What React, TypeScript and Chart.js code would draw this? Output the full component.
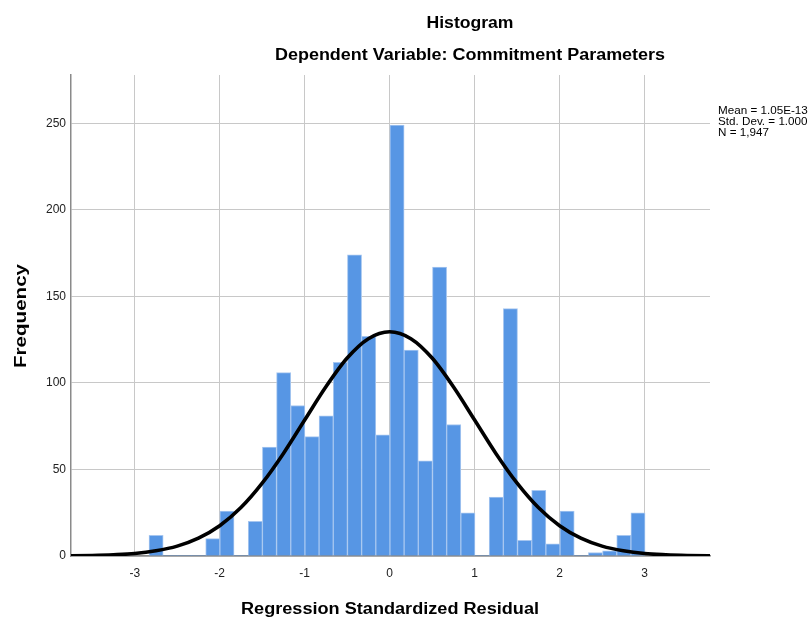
import React, { useEffect, useRef } from "react";
import { Chart, registerables } from "chart.js";

Chart.register(...registerables);

// ---- data ----
const binStart = -2.832;
const binWidth = 0.1668;
const binCounts = [
  12, 0, 0, 0, 10, 26, 0, 20, 63, 106, 87, 69, 81, 112, 174, 127, 70, 249,
  119, 55, 167, 76, 25, 0, 34, 143, 9, 38, 7, 26, 0, 2, 3, 12, 25,
];
const curveX = [
  -4, -3.75, -3.5, -3.25, -3, -2.75, -2.5, -2.25, -2, -1.75, -1.5, -1.25, -1,
  -0.75, -0.5, -0.25, 0, 0.25, 0.5, 0.75, 1, 1.25, 1.5, 1.75, 2, 2.25, 2.5,
  2.75, 3, 3.25, 3.5, 3.75, 4,
];
const curveY = [
  0.04, 0.1, 0.3, 0.7, 1.4, 3.0, 5.7, 10.3, 17.5, 28.0, 42.1, 59.3, 78.6,
  97.8, 114.4, 125.6, 129.6, 125.6, 114.4, 97.8, 78.6, 59.3, 42.1, 28.0, 17.5,
  10.3, 5.7, 3.0, 1.4, 0.7, 0.3, 0.1, 0.04,
];
const xTicks = [-3, -2, -1, 0, 1, 2, 3];
const yTicks = [0, 50, 100, 150, 200, 250];
const titleText = "Histogram";
const subtitleText = "Dependent Variable: Commitment Parameters";
const xTitle = "Regression Standardized Residual";
const yTitle = "Frequency";
const statsLines = ["Mean = 1.05E-13", "Std. Dev. = 1.000", "N = 1,947"];

const FONT = "'Liberation Sans', Arial, sans-serif";

function drawStretched(
  ctx: CanvasRenderingContext2D,
  text: string,
  x: number,
  y: number,
  font: string,
  sxOrWidth: { width?: number; sx?: number },
  align: "left" | "center",
  rotate = 0
) {
  ctx.save();
  ctx.font = font;
  ctx.fillStyle = "#000";
  ctx.textBaseline = "alphabetic";
  ctx.textAlign = "left";
  const w = ctx.measureText(text).width;
  const sx = sxOrWidth.width ? sxOrWidth.width / w : sxOrWidth.sx || 1;
  ctx.translate(x, y);
  if (rotate) ctx.rotate(rotate);
  ctx.scale(sx, 1);
  const ox = align === "center" ? -w / 2 : 0;
  ctx.fillText(text, ox, 0);
  ctx.restore();
}

const textPlugin = {
  id: "spssText",
  afterDraw(chart: any) {
    const ctx = chart.ctx as CanvasRenderingContext2D;
    drawStretched(ctx, titleText, 470, 28, `bold 16px ${FONT}`, { width: 87 }, "center");
    drawStretched(ctx, subtitleText, 470, 60, `bold 16px ${FONT}`, { width: 390 }, "center");
    drawStretched(ctx, xTitle, 390, 614, `bold 16px ${FONT}`, { width: 298 }, "center");
    drawStretched(ctx, yTitle, 26, 316, `bold 17px ${FONT}`, { width: 104 }, "center", -Math.PI / 2);
    statsLines.forEach((t, i) => {
      drawStretched(ctx, t, 718, 114 + i * 11, `11px ${FONT}`, { sx: 1.06 }, "left");
    });
  },
};

export default function App() {
  const ref = useRef<HTMLCanvasElement | null>(null);
  useEffect(() => {
    if (!ref.current) return;
    const barData = binCounts.map((c, i) => ({
      x: binStart + (i + 0.5) * binWidth,
      y: c,
    }));
    const lineData = curveX.map((x, i) => ({ x, y: curveY[i] }));
    const chart = new Chart(ref.current, {
      type: "bar",
      data: {
        datasets: [
          {
            type: "line",
            data: lineData,
            borderColor: "#000",
            borderWidth: 3.6,
            pointRadius: 0,
            cubicInterpolationMode: "monotone",
            fill: false,
            order: 0,
            clip: 0,
          } as any,
          {
            type: "bar",
            data: barData,
            backgroundColor: "#5796e4",
            borderColor: "#a6c6f0",
            borderWidth: (c: any) => (c.raw && c.raw.y > 0 ? 1 : 0),
            borderSkipped: "bottom",
            barPercentage: 1,
            categoryPercentage: 1,
            order: 1,
          } as any,
        ],
      },
      options: {
        responsive: false,
        animation: false,
        events: [],
        layout: { padding: { left: 0, top: 75, right: 102, bottom: 0 } },
        plugins: {
          legend: { display: false },
          tooltip: { enabled: false },
          title: { display: false },
        },
        scales: {
          x: {
            type: "linear",
            min: -3.75,
            max: 3.77,
            offset: false,
            afterFit: (s: any) => {
              s.height = 66;
            },
            afterBuildTicks: (s: any) => {
              s.ticks = xTicks.map((v) => ({ value: v }));
            },
            ticks: {
              padding: 10,
              color: "#222",
              font: { family: FONT, size: 12 },
            },
            grid: { color: "#c8c8c8", lineWidth: 1, drawTicks: false, offset: false },
            border: { color: "#8a8a8a", width: 1.5 },
          },
          y: {
            type: "linear",
            min: 0,
            max: 278,
            afterFit: (s: any) => {
              s.width = 71;
            },
            afterBuildTicks: (s: any) => {
              s.ticks = yTicks.map((v) => ({ value: v }));
            },
            ticks: {
              padding: 5,
              color: "#222",
              font: { family: FONT, size: 12 },
            },
            grid: { color: "#c8c8c8", lineWidth: 1, drawTicks: false },
            border: { color: "#8a8a8a", width: 1.5 },
          },
        },
      } as any,
      plugins: [textPlugin],
    });
    return () => chart.destroy();
  }, []);
  return (
    <div style={{ position: "fixed", left: 0, top: 0, width: 812, height: 622, background: "#fff" }}>
      <canvas ref={ref} width={812} height={622} style={{ display: "block" }} />
    </div>
  );
}
